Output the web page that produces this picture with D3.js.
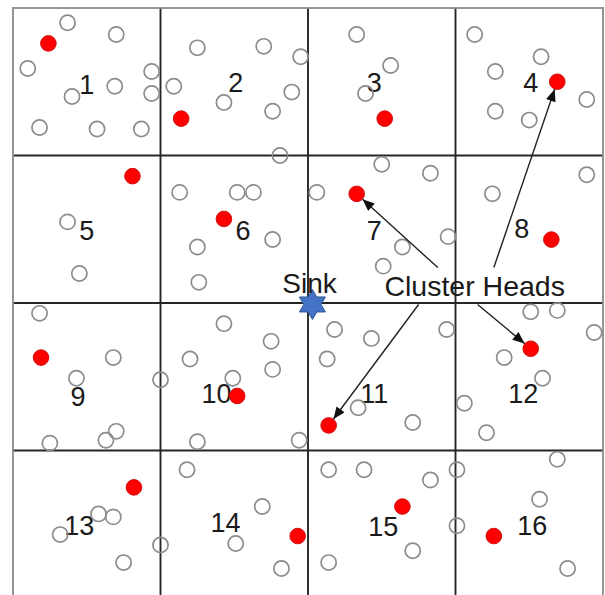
<!DOCTYPE html>
<html>
<head>
<meta charset="utf-8">
<script src="https://cdn.jsdelivr.net/npm/d3@7/dist/d3.min.js"></script>
<style>
  html, body { margin: 0; padding: 0; background: #fff; }
  svg { display: block; }
</style>
</head>
<body>
<script>
// Field is 400 x 400 units, divided into a 4 x 4 grid of clusters
const fieldSize = 400;
const gridLines = [0, 100, 200, 300, 400];

// Ordinary sensor nodes (x, y in field units)
const nodeX = [37,70,10,94,69,40,94,18,57,87,
  125,170,195,109,189,143,176,181,
  233,256,239,250,
  313,358,327,389,327,350,
  37,45,18,
  113,152,163,176,125,126,
  283,206,295,264,251,
  325,389,
  68,43,100,25,63,70,
  143,175,120,176,149,125,194,
  218,243,294,213,234,271,
  351,369,394,333,359,306,321,
  58,68,32,75,100,
  118,169,151,182,
  214,238,283,301,301,271,214,
  369,357,376];
const nodeY = [10,18,41,43,53,60,58,81,82,82,
  27,26,33,53,57,64,70,100,
  18,39,58,106,
  18,33,43,62,70,76,
  145,180,207,
  125,125,125,157,162,186,
  112,125,155,162,175,
  126,113,
  237,251,252,295,293,287,
  214,226,238,245,251,294,293,
  218,224,218,238,271,281,
  206,205,220,237,251,268,288,
  343,345,357,376,364,
  313,338,363,380,
  313,313,320,313,351,368,376,
  306,333,380];

// Cluster heads, one per cluster 1..16
const headX = [24,114,252,369,81,143,233,365,19,152,214,351,82,193,264,326];
const headY = [24,75,75,50,114,143,126,157,237,263,283,231,325,358,338,358];

// Cluster labels
const clusterLabels = ["1","2","3","4","5","6","7","8","9","10","11","12","13","14","15","16"];
const labelX = [50,151,245,351,50,156,245,345,44,138,245,346,45,144,251,352];
const labelY = [58,57,57,57,157,157,157,156,270,268,268,268,357,355,358,357];

// Sink position
const sinkX = 203, sinkY = 201;
const sinkLabel = "Sink";
const sinkLabelX = 201, sinkLabelY = 193;

// "Cluster Heads" annotation and arrows (start point -> cluster index)
const annotationText = "Cluster Heads";
const annotationX = 313, annotationY = 195;
const arrowStartX = [288, 326, 275, 315];
const arrowStartY = [176, 176, 201, 201];
const arrowTarget = [7, 4, 11, 12];

// ---------------------------------------------------------------
const W = 605, H = 595;
const FONT = "Liberation Sans, Arial, sans-serif";
const svg = d3.select("body").append("svg").attr("width", W).attr("height", H);

const x = d3.scaleLinear().domain([0, fieldSize]).range([13, 603]);
const y = d3.scaleLinear().domain([0, fieldSize]).range([8, 598]);

const defs = svg.append("defs");
defs.append("marker")
  .attr("id", "arrow")
  .attr("viewBox", "0 0 12 10")
  .attr("refX", 12).attr("refY", 5)
  .attr("markerWidth", 13).attr("markerHeight", 10)
  .attr("markerUnits", "userSpaceOnUse")
  .attr("orient", "auto")
  .append("path").attr("d", "M0,0 L12,5 L0,10 Z").attr("fill", "#111");

// grid
const inner = gridLines.slice(1, -1);
svg.append("g").selectAll("line.v").data(inner).join("line")
  .attr("x1", d => x(d)).attr("x2", d => x(d))
  .attr("y1", y(0)).attr("y2", y(fieldSize))
  .attr("stroke", "#262626").attr("stroke-width", 1.9);
svg.append("g").selectAll("line.h").data(inner).join("line")
  .attr("y1", d => y(d)).attr("y2", d => y(d))
  .attr("x1", x(0)).attr("x2", x(fieldSize))
  .attr("stroke", "#262626").attr("stroke-width", 1.9);
svg.append("rect")
  .attr("x", x(0)).attr("y", y(0))
  .attr("width", x(fieldSize) - x(0)).attr("height", y(fieldSize) - y(0))
  .attr("fill", "none").attr("stroke", "#8a8a8a").attr("stroke-width", 1.8);

// cluster labels
svg.append("g").selectAll("text").data(clusterLabels).join("text")
  .attr("x", (d, i) => x(labelX[i]))
  .attr("y", (d, i) => y(labelY[i]))
  .attr("text-anchor", "middle")
  .attr("font-family", FONT)
  .attr("font-size", 27)
  .attr("fill", "#1a1a1a")
  .text(d => d);

// ordinary nodes
svg.append("g").selectAll("circle").data(nodeX).join("circle")
  .attr("cx", (d, i) => x(nodeX[i]))
  .attr("cy", (d, i) => y(nodeY[i]))
  .attr("r", 7.6)
  .attr("fill", "none")
  .attr("stroke", "#8c8c8c")
  .attr("stroke-width", 1.7);

// cluster heads
svg.append("g").selectAll("circle").data(headX).join("circle")
  .attr("cx", (d, i) => x(headX[i]))
  .attr("cy", (d, i) => y(headY[i]))
  .attr("r", 7.8)
  .attr("fill", "#ff0000")
  .attr("stroke", "#d01010")
  .attr("stroke-width", 1);

// arrows
const R = 8;
svg.append("g").selectAll("line").data(arrowTarget).join("line")
  .each(function(t, i) {
    const x1 = x(arrowStartX[i]), y1 = y(arrowStartY[i]);
    const cx = x(headX[t - 1]), cy = y(headY[t - 1]);
    const dx = cx - x1, dy = cy - y1, L = Math.hypot(dx, dy);
    d3.select(this)
      .attr("x1", x1).attr("y1", y1)
      .attr("x2", cx - dx / L * R).attr("y2", cy - dy / L * R);
  })
  .attr("stroke", "#222").attr("stroke-width", 1.4)
  .attr("marker-end", "url(#arrow)");

// sink star (hexagram)
const ro = 15, ri = ro / Math.sqrt(3);
const starPts = d3.range(12).map(k => {
  const a = -Math.PI / 2 + k * Math.PI / 6;
  const r = k % 2 === 0 ? ro : ri;
  return [x(sinkX) + r * Math.cos(a), y(sinkY) + r * Math.sin(a)];
});
svg.append("path")
  .attr("d", d3.line()(starPts) + "Z")
  .attr("fill", "#4473c5")
  .attr("stroke", "#2d5597")
  .attr("stroke-width", 1);

// texts
svg.append("text")
  .attr("x", x(sinkLabelX)).attr("y", y(sinkLabelY))
  .attr("text-anchor", "middle")
  .attr("font-family", FONT)
  .attr("font-size", 28).attr("fill", "#1a1a1a")
  .text(sinkLabel);
svg.append("text")
  .attr("x", x(annotationX)).attr("y", y(annotationY))
  .attr("text-anchor", "middle")
  .attr("font-family", FONT)
  .attr("font-size", 28.5).attr("fill", "#1a1a1a")
  .text(annotationText);
</script>
</body>
</html>
